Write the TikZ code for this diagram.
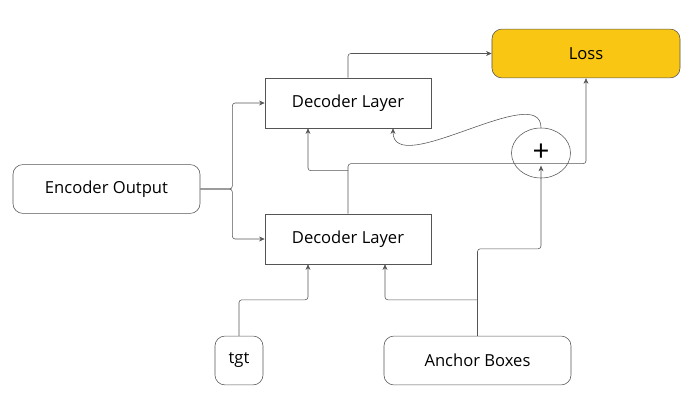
\documentclass[tikz,border=0pt]{standalone}
\usepackage{fontspec}
\setmainfont{Open Sans}
\usepackage{xcolor}
\usetikzlibrary{arrows.meta, positioning, shapes.geometric, calc}
\definecolor{lossyellow}{RGB}{249,198,19}
\definecolor{linegray}{RGB}{85,85,85}

\begin{document}
\begin{tikzpicture}[
    x=0.025cm, y=-0.025cm,
    font=\fontsize{11.8}{14}\selectfont,
    plainbox/.style={rectangle, draw=linegray, inner sep=0pt, minimum width=4.15cm, minimum height=1.25cm},
    roundbox/.style={rectangle, draw=linegray, rounded corners=7pt, inner sep=0pt, minimum height=1.22cm},
    lossbox/.style={roundbox, fill=lossyellow, minimum width=4.7cm},
    sumnode/.style={ellipse, draw=linegray, inner sep=0pt, minimum width=1.475cm, minimum height=1.25cm, font=\fontsize{21}{21}\selectfont},
    arrow/.style={-{Stealth[length=4pt, width=3.5pt]}, draw=linegray, rounded corners=2pt}
]
    \useasboundingbox (0,0) rectangle (700,400);

    \node[roundbox, minimum width=4.675cm] (enc) at (106.5,189) {Encoder Output};
    \node[plainbox] (dec1) at (348,103) {Decoder Layer};
    \node[plainbox] (dec2) at (348,239) {Decoder Layer};
    \node[lossbox] (loss) at (586,53.5) {Loss};
    \node[sumnode] (plus) at (541,153) {+};
    \node[roundbox, minimum width=1.2cm] (tgt) at (239,360.5) {tgt};
    \node[roundbox, minimum width=4.675cm] (anchor) at (477.5,360.5) {Anchor Boxes};

    \draw[arrow] (enc.east) -- ++(32,0) |- (dec1.west);
    \draw[arrow] (enc.east) -- ++(32,0) |- (dec2.west);
    \draw[arrow] (dec1.north) |- (loss.west);
    \draw[arrow] (dec2.north) -- ++(0,-50) -| (loss.south);
    \draw[arrow] ($(dec2.north)+(0,-43)$) -| ($(dec1.south)+(-40,0)$);
    \draw[arrow] (plus.north) .. controls +(0,-48) and +(0,52) .. ($(dec1.south)+(45,0)$);
    \draw[arrow] (tgt.north) -- ++(0,-36) -| ($(dec2.south)+(-40,0)$);
    \draw[arrow, shorten >=9pt] (anchor.north) -- ++(0,-87) -| (plus.center);
    \draw[arrow] ($(anchor.north)+(0,-36)$) -| ($(dec2.south)+(37,0)$);
\end{tikzpicture}
\end{document}
